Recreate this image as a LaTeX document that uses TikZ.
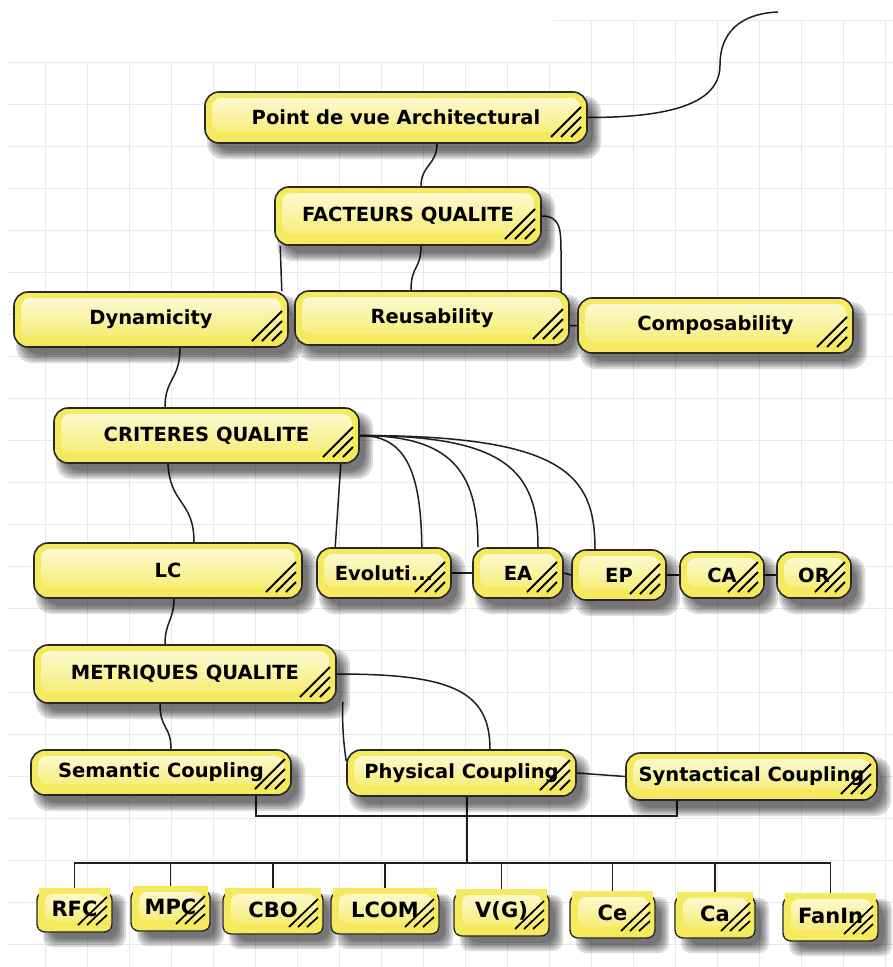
\documentclass[tikz,border=0pt]{standalone}
\usepackage{fontspec}
\setmainfont{DejaVu Sans}
\usetikzlibrary{calc}
\definecolor{ny}{RGB}{245,234,95}
\definecolor{nhl}{RGB}{253,251,222}
\definecolor{nbd}{RGB}{40,40,40}
\definecolor{gridc}{RGB}{230,234,234}
\pgfdeclarelayer{bglayer}
\pgfdeclarelayer{edgelayer}
\pgfsetlayers{bglayer,edgelayer,main}
\tikzset{
  hatchpic/.style={path picture={
    \fill[top color=nhl, bottom color=ny, rounded corners=9pt]
      ([xshift=7pt,yshift=-6pt]path picture bounding box.north west) rectangle
      ([xshift=-7pt,yshift=11pt]path picture bounding box.south east);
    \foreach \d in {36pt,26pt,16pt}{
      \draw[line width=1.8pt, black]
        ([xshift=-\d,yshift=6pt]path picture bounding box.south east) --
        ([xshift=-6pt,yshift=\d]path picture bounding box.south east);}
  }},
  hatchpicb/.style={path picture={
    \fill[top color=nhl, bottom color=ny, rounded corners=8pt]
      ([xshift=6pt,yshift=-6pt]path picture bounding box.north west) rectangle
      ([xshift=-5pt,yshift=8pt]path picture bounding box.south east);
    \foreach \d in {32pt,23pt,14pt}{
      \draw[line width=1.7pt, black]
        ([xshift=-\d,yshift=4pt]path picture bounding box.south east) --
        ([xshift=-3pt,yshift=\d]path picture bounding box.south east);}
  }},
  mm/.style={rectangle, rounded corners=14pt, draw=nbd, line width=1.6pt, fill=ny,
    hatchpic, inner sep=0pt, font=\bfseries\fontsize{19.5}{22}\selectfont, text=black},
  bb/.style={rectangle, fill=ny, draw=none, hatchpicb,
    inner sep=0pt, font=\bfseries\fontsize{21}{24}\selectfont, text=black},
  bout/.style={draw=nbd, line width=1.4pt, rounded corners=8pt, fill=ny},
  shd/.style={fill=black, fill opacity=0.14},
  ed/.style={draw=black!88, line width=1.5pt},
}
% soft shadow: #1 x, #2 y, #3 w, #4 h, #5 dx, #6 dy, #7 radius
\newcommand\softshadow[7]{%
  \foreach \g in {6,4,2,0,-2}{%
    \fill[shd, rounded corners=#7pt] (#1-#3/2+#5-\g,#2-#4/2+#6-\g) rectangle (#1+#3/2+#5+\g,#2+#4/2+#6+\g);}}
\newcommand\mnode[6]{\softshadow{#2}{#3}{#4}{#5}{8}{10}{16}%
  \node[mm, minimum width=#4pt, minimum height=#5pt] (#1) at (#2,#3) {#6};}
\newcommand\bnode[6]{\softshadow{#2}{#3}{#4}{#5}{10}{12}{10}%
  \draw[bout] (#2-#4/2-2,#3-#5/2+4) rectangle (#2+#4/2+2,#3+#5/2+3);
  \node[bb, minimum width=#4pt, minimum height=#5pt] (#1) at (#2,#3) {#6};}
\begin{document}
\begin{tikzpicture}[x=1pt,y=-1pt]
\useasboundingbox (0,0) rectangle (893,967);
\begin{pgfonlayer}{bglayer}
  \fill[white] (0,0) rectangle (893,967);
  \begin{scope}[shift={(3,20)}]
    \draw[gridc, line width=1pt, step=42pt] (5,42) grid (890,947);
    \draw[gridc, line width=1pt, step=42pt] (550,0) grid (890,42);
  \end{scope}
\end{pgfonlayer}
\coordinate (tr) at (778,12);
% main nodes
\mnode{pva}{396}{117.5}{382}{51}{Point de vue Architectural}
\mnode{fq}{408}{216}{266}{58}{FACTEURS QUALITE}
\mnode{dyn}{151}{319.5}{274}{55}{Dynamicity}
\mnode{reu}{432}{318}{274}{54}{Reusability}
\mnode{comp}{715.5}{325.5}{275}{55}{Composability}
\mnode{crit}{206.5}{435.5}{305}{55}{CRITERES QUALITE}
\mnode{lc}{168}{570.5}{268}{55}{LC}
\mnode{evo}{384}{573}{134}{50}{Evoluti...}
\mnode{ea}{518}{573}{90}{50}{EA}
\mnode{ep}{619}{575}{94}{50}{EP}
\mnode{ca}{722}{575}{84}{46}{CA}
\mnode{orn}{814}{575}{74}{46}{OR}
\mnode{met}{185}{674}{302}{58}{METRIQUES QUALITE}
\mnode{sem}{161}{772.5}{260}{45}{Semantic Coupling}
\mnode{phy}{461.5}{773}{229}{46}{Physical Coupling}
\mnode{syn}{751.5}{776.5}{251}{47}{Syntactical Coupling}
% bottom nodes
\bnode{rfc}{74.5}{908.5}{71}{41}{RFC}
\bnode{mpc}{170.5}{907}{75}{42}{MPC}
\bnode{cbo}{273}{909.5}{96}{43}{CBO}
\bnode{lcom}{385}{909.5}{104}{43}{LCOM}
\bnode{vg}{501.5}{911}{91}{44}{V(G)}
\bnode{ce}{612.5}{913}{81}{44}{Ce}
\bnode{cab}{715}{913.5}{76}{43}{Ca}
\bnode{fanin}{830.5}{915.5}{91}{45}{FanIn}
\coordinate (jbar) at (467,816);
\coordinate (jbus) at (467,863);
\begin{pgfonlayer}{edgelayer}
  \draw[ed] (pva.east) .. controls (680,117.5) and (720,100) .. (720,65)
            .. controls (720,25) and (750,13) .. (tr);
  \draw[ed] ([xshift=41pt]pva.south) .. controls (437,165) and (421,165) .. ([xshift=13pt]fq.north);
  \draw[ed] ([xshift=6pt]fq.south west) -- ([xshift=-7pt]dyn.north east);
  \draw[ed] ([xshift=13pt]fq.south) .. controls (421,270) and (411,265) .. ([xshift=-21pt]reu.north);
  \draw[ed] (fq.east) .. controls (561,216) and (561,230) .. (561,255) -- (561,325.5) -- (comp.west);
  \draw[ed] ([xshift=29pt]dyn.south) .. controls (180,380) and (165,378) .. ([xshift=-41.5pt]crit.north);
  \draw[ed] ([xshift=-38.5pt]crit.south) .. controls (170,505) and (194,500) .. ([xshift=26pt]lc.north);
  \draw[ed] ([xshift=-19pt]crit.south east) -- ([xshift=19pt]evo.north west);
  \draw[ed] (crit.east) .. controls (405,435.5) and (421,470) .. ([xshift=-30pt]evo.north east);
  \draw[ed] (crit.east) .. controls (450,435.5) and (478,470) .. ([xshift=-40pt]ea.north);
  \draw[ed] (crit.east) .. controls (505,435.5) and (538,470) .. ([xshift=20pt]ea.north);
  \draw[ed] (crit.east) .. controls (565,435.5) and (595,475) .. ([xshift=-24pt]ep.north);
  \draw[ed] (evo.east) -- (ea.west);
  \draw[ed] (ea.east) -- (ep.west);
  \draw[ed] (ep.east) -- (ca.west);
  \draw[ed] (ca.east) -- (orn.west);
  \draw[ed] ([xshift=6pt]lc.south) .. controls (174,620) and (165,622) .. ([xshift=-20pt]met.north);
  \draw[ed] ([xshift=-25pt]met.south) .. controls (160,730) and (171,725) .. ([xshift=10pt]sem.north);
  \draw[ed] (met.east) .. controls (450,674) and (490,690) .. ([xshift=28.5pt]phy.north);
  \draw[ed] ([xshift=6pt,yshift=2pt]met.south east) .. controls (342,730) and (344,745) .. ([yshift=-12pt]phy.north west);
  \draw[ed] (phy.east) -- (syn.west);
  \draw[ed] ([xshift=95pt]sem.south) |- (jbar) -| ([xshift=-74.5pt]syn.south);
  \draw[ed] ([xshift=5.5pt]phy.south) -- (jbus);
  \foreach \n in {rfc,mpc,cbo,lcom,vg,ce,cab,fanin} \draw[ed] (jbus) -| (\n.north);
\end{pgfonlayer}
\end{tikzpicture}
\end{document}
